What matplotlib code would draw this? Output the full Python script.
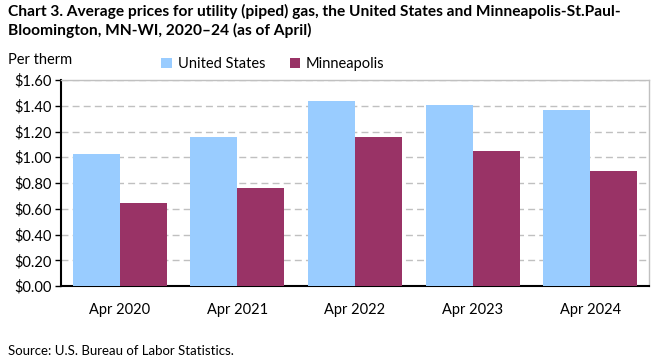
import numpy as np
from matplotlib import pyplot as plt

years = ['Apr 2020', 'Apr 2021', 'Apr 2022', 'Apr 2023', 'Apr 2024']
us_prices = [1.025, 1.157, 1.437, 1.406, 1.367]
msp_prices = [0.645, 0.761, 1.157, 1.049, 0.893]
y_ticks = [0.0, 0.2, 0.4, 0.6, 0.8, 1.0, 1.2, 1.4, 1.6]

plt.rcParams['font.family'] = ['Lato', 'DejaVu Sans']

fig = plt.figure(figsize=(6.61, 3.61), dpi=100)
ax = fig.add_axes([61 / 661, 1 - 286 / 361, 588 / 661, 206 / 361])

x = np.arange(len(years))
w = 0.4
ax.bar(x - w / 2, us_prices, w, color='#99ccff', label='United States', zorder=3)
ax.bar(x + w / 2, msp_prices, w, color='#993366', label='Minneapolis', zorder=3)

ax.set_xlim(-0.5, len(years) - 0.5)
ax.set_ylim(0, 1.6)
ax.set_yticks(y_ticks)
ax.set_yticklabels(['${:.2f}'.format(v) for v in y_ticks], fontsize=10.5)
ax.set_xticks(x)
ax.set_xticklabels(years, fontsize=10.5)
ax.tick_params(axis='x', length=0, pad=12)
ax.tick_params(axis='y', length=4, width=1, color='black', pad=3)

ax.yaxis.grid(True, color='#c0c0c0', linestyle=(0, (5, 3)), linewidth=1, zorder=0)
for side in ['top', 'right']:
    ax.spines[side].set_color('#c0c0c0')
    ax.spines[side].set_linewidth(1)
for side in ['left', 'bottom']:
    ax.spines[side].set_color('black')
    ax.spines[side].set_linewidth(1.5)

fig.text(8 / 661, 1 - 4 / 361,
         'Chart 3. Average prices for utility (piped) gas, the United States and Minneapolis-St.Paul-\n'
         'Bloomington, MN-WI, 2020\u201324 (as of April)',
         fontsize=11.2, fontweight='bold', va='top', ha='left', linespacing=1.3)
fig.text(8 / 661, 1 - 60 / 361, 'Per therm', fontsize=10.5, va='center', ha='left')
fig.text(8 / 661, 1 - 351 / 361, 'Source: U.S. Bureau of Labor Statistics.', fontsize=9.5,
         va='center', ha='left')

fig.legend(loc='center', bbox_to_anchor=(273 / 661, 1 - 64 / 361), ncol=2, frameon=False,
           fontsize=10.5, handlelength=0.7, handleheight=0.7, columnspacing=1.7,
           handletextpad=0.4)

fig.savefig('out.png', dpi=100)
